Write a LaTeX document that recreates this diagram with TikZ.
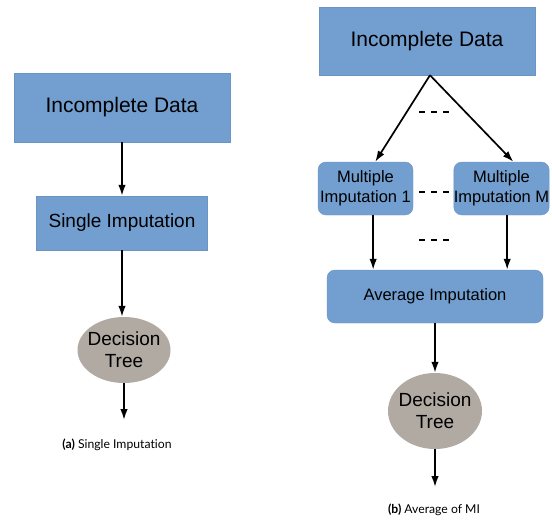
\documentclass[tikz,border=0pt]{standalone}
\usepackage{fontspec}
\setmainfont{Liberation Sans}
\newfontfamily\capfont[Ligatures=NoCommon]{Lato}
\usepackage{tikz}
\usetikzlibrary{%
    arrows.meta,%
    shapes.geometric%
}
\definecolor{boxblue}{HTML}{729FCF}
\definecolor{boxline}{HTML}{6A94C4}
\definecolor{treegray}{HTML}{B0AAA3}

\begin{document}
\begin{tikzpicture}[x=1pt, y=-1pt,
  box/.style={fill=boxblue, draw=boxline, line width=0.4pt, inner sep=0pt, align=center},
  tree/.style={ellipse, fill=treegray, inner xsep=-6pt, inner ysep=0pt, align=center,
    font=\fontsize{19}{22}\selectfont},
  flow/.style={line width=1.7pt, -{Latex[length=11pt,width=7.5pt]}},
  dots/.style={line width=1.8pt, dash pattern=on 6pt off 6pt},
  caption/.style={font=\capfont\fontsize{12.2}{15}\selectfont}]
  \useasboundingbox (0, 0) rectangle (552, 522);
  % (a) single imputation
  \node[box, minimum width=216pt, minimum height=69pt, font=\fontsize{21}{25}\selectfont]
    (dataA) at (122, 107.5) {Incomplete Data};
  \node[box, minimum width=171pt, minimum height=54pt, font=\fontsize{19}{22}\selectfont]
    (single) at (122, 223) {Single Imputation};
  \node[tree, minimum width=93pt, minimum height=66pt] (treeA) at (124, 350) {Decision\\Tree};
  \coordinate (endA) at (124, 420);
  \draw[flow] (dataA.south) -- (single.north);
  \draw[flow] (single.south) -- (single.south |- treeA.north);
  \draw[flow] (treeA.south) -- (endA);
  \node[caption] (capA) at (117, 445) {\textbf{(a)} Single Imputation};
  % (b) average of MI
  \node[box, minimum width=216pt, minimum height=68pt, font=\fontsize{21}{25}\selectfont]
    (dataB) at (427, 41) {Incomplete Data};
  \node[box, rounded corners=8pt, minimum width=95pt, minimum height=53pt,
    font=\fontsize{16.5}{20}\selectfont] (mi1) at (365.5, 188.5) {Multiple\\Imputation 1};
  \node[box, rounded corners=8pt, minimum width=93pt, minimum height=53pt,
    font=\fontsize{16.5}{20}\selectfont] (miM) at (501.5, 188.5) {Multiple\\Imputation M};
  \node[box, rounded corners=8pt, minimum width=216pt, minimum height=53pt,
    font=\fontsize{16.5}{20}\selectfont] (avg) at (435, 296.5) {Average Imputation};
  \node[tree, minimum width=94pt, minimum height=76pt] (treeB) at (435, 411) {Decision\\Tree};
  \coordinate (endB) at (435, 487);
  \draw[flow] (dataB.-85) -- (mi1.70);
  \draw[flow] (dataB.-85) -- (miM.66);
  \draw[flow] (mi1.-74) -- (mi1.-74 |- avg.north);
  \draw[flow] (miM.-78) -- (miM.-78 |- avg.north);
  \draw[flow] (avg.south) -- (treeB.north);
  \draw[flow] (treeB.south) -- (endB);
  \foreach \y in {112, 192, 240}
    \draw[dots] (419, \y) -- (449, \y);
  \node[caption] (capB) at (434, 510) {\textbf{(b)} Average of MI};
\end{tikzpicture}
\end{document}
